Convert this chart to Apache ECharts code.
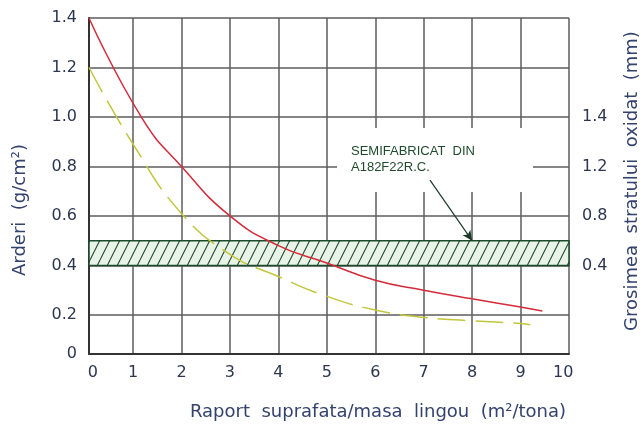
<!DOCTYPE html>
<html><head><meta charset="utf-8">
<script src="https://cdn.jsdelivr.net/npm/echarts@6/dist/echarts.min.js"></script>
<style>html,body{margin:0;padding:0;background:#fff}#c{width:643px;height:426px}</style>
</head><body><div id="c"></div>
<script>
// ---- data ----
const xMin = 0.09, xMax = 10;
const yMin = 0.042, yMax = 1.4;
const xTickPos = [0.09, 1, 2, 3, 4, 5, 6, 7, 8, 9, 10];
const xLabelPos = [0.17, 1, 2, 3, 4, 5, 6, 7, 8, 9, 9.88];
const xLabels = ['0','1','2','3','4','5','6','7','8','9','10'];
const yTickPos = [0.042, 0.2, 0.4, 0.6, 0.8, 1.0, 1.2, 1.4];
const yLabels = ['0','0.2','0.4','0.6','0.8','1.0','1.2','1.4'];
const rightTickPos = [0.4, 0.6, 0.8, 1.0];
const rightLabels = ['0.4','0.8','1.2','1.4'];

const arderiX = [0.09, 1.2, 2, 3, 4, 5, 6, 7, 8, 9, 9.45];
const arderiY = [1.4, 0.99, 0.8, 0.6, 0.48, 0.41, 0.34, 0.30, 0.265, 0.232, 0.216];
const oxidX = [0.09, 1, 2, 3, 4, 5, 6, 7, 8, 9, 9.2];
const oxidY = [1.2, 0.89, 0.61, 0.445, 0.355, 0.275, 0.22, 0.19, 0.176, 0.165, 0.16];

const bandRange = [0.4, 0.5];
const arrowFrom = [7.13, 0.745];
const arrowTo = [8, 0.5];
const noteLines = ['SEMIFABRICAT  DIN', 'A182F22R.C.'];
const xTitle = 'Raport  suprafata/masa  lingou  (m²/tona)';
const yTitle = 'Arderi  (g/cm²)';
const y2Title = 'Grosimea  stratului  oxidat  (mm)';

// ---- hatch pattern ----
const pc = document.createElement('canvas');
pc.width = 10; pc.height = 20;
const g = pc.getContext('2d');
g.fillStyle = '#e8f4e8'; g.fillRect(0,0,10,20);
g.strokeStyle = '#2a4a33'; g.lineWidth = 1.1;
[-10, 0, 10].forEach(o => { g.beginPath(); g.moveTo(o, 20); g.lineTo(o + 10, 0); g.stroke(); });

const pair = (xs, ys) => xs.map((x, i) => [x, ys[i]]);
const font = '"DejaVu Sans", sans-serif';
const tickColor = '#2d3552';
const titleColor = '#34426e';
const gridColor = '#5c5c5c';

const chart = echarts.init(document.getElementById('c'), null, {renderer: 'canvas'});
chart.setOption({
  animation: false,
  backgroundColor: '#fff',
  grid: {left: 89, right: 74, top: 18, bottom: 72},
  xAxis: {
    type: 'value', min: xMin, max: xMax,
    axisLine: {show: true, lineStyle: {color: '#333', width: 2}},
    axisTick: {show: false, customValues: xTickPos},
    axisLabel: {customValues: xLabelPos, margin: 11, color: tickColor, fontSize: 16, fontFamily: font,
      formatter: v => xLabels[xLabelPos.indexOf(v)]},
    splitLine: {show: true, lineStyle: {color: gridColor, width: 1.5}}
  },
  yAxis: [{
    type: 'value', min: yMin, max: yMax,
    axisLine: {show: true, lineStyle: {color: '#333', width: 2}},
    axisTick: {show: false, customValues: yTickPos},
    axisLabel: {customValues: yTickPos, margin: 12, color: tickColor, fontSize: 16, fontFamily: font,
      formatter: v => yLabels[yTickPos.indexOf(v)]},
    splitLine: {show: true, lineStyle: {color: gridColor, width: 1.5}}
  }, {
    type: 'value', min: yMin, max: yMax, position: 'right',
    axisLine: {show: false},
    axisTick: {show: false, customValues: rightTickPos},
    axisLabel: {customValues: rightTickPos, margin: 13, color: tickColor, fontSize: 16, fontFamily: font,
      formatter: v => rightLabels[rightTickPos.indexOf(v)]},
    splitLine: {show: false}
  }],
  graphic: [
    {type: 'rect', z: 1, shape: {x: 337, y: 128, width: 196, height: 64}, style: {fill: '#fff'}},
    {type: 'text', z: 10, left: 351, top: 143, style: {text: noteLines.join('\n'), fill: '#1f4a2c', font: '13px "Liberation Sans", Arial, sans-serif', lineHeight: 16}},
    {type: 'text', z: 10, x: 378, y: 412, style: {text: xTitle, fill: titleColor, font: '18px ' + font, textAlign: 'center', textVerticalAlign: 'middle'}},
    {type: 'text', z: 10, x: 20, y: 210, rotation: Math.PI/2, style: {text: yTitle, fill: titleColor, font: '18px ' + font, textAlign: 'center', textVerticalAlign: 'middle'}},
    {type: 'text', z: 10, x: 632, y: 181, rotation: Math.PI/2, style: {text: y2Title, fill: titleColor, font: '18px ' + font, textAlign: 'center', textVerticalAlign: 'middle'}}
  ],
  series: [{
    type: 'line', name: 'Arderi', data: pair(arderiX, arderiY), smooth: 0.5, showSymbol: false,
    lineStyle: {color: '#d42a3a', width: 1.5}, z: 5,
    markArea: {silent: true, z: 3,
      itemStyle: {color: {image: pc, repeat: 'repeat'}, borderColor: '#1e4a2c', borderWidth: 1.5},
      data: [[{coord: [xMin, bandRange[0]]}, {coord: [xMax, bandRange[1]]}]]},
    markLine: {silent: true, symbol: ['none', 'arrow'], symbolSize: [7, 10], label: {show: false},
      lineStyle: {color: '#1e3a28', width: 1.2, type: 'solid'},
      data: [[{coord: arrowFrom}, {coord: arrowTo}]]}
  }, {
    type: 'line', name: 'Oxid', data: pair(oxidX, oxidY), smooth: 0.5, showSymbol: false,
    lineStyle: {color: '#c2c63a', width: 1.5, type: [28, 10]}, z: 5
  }]
});
</script></body></html>
